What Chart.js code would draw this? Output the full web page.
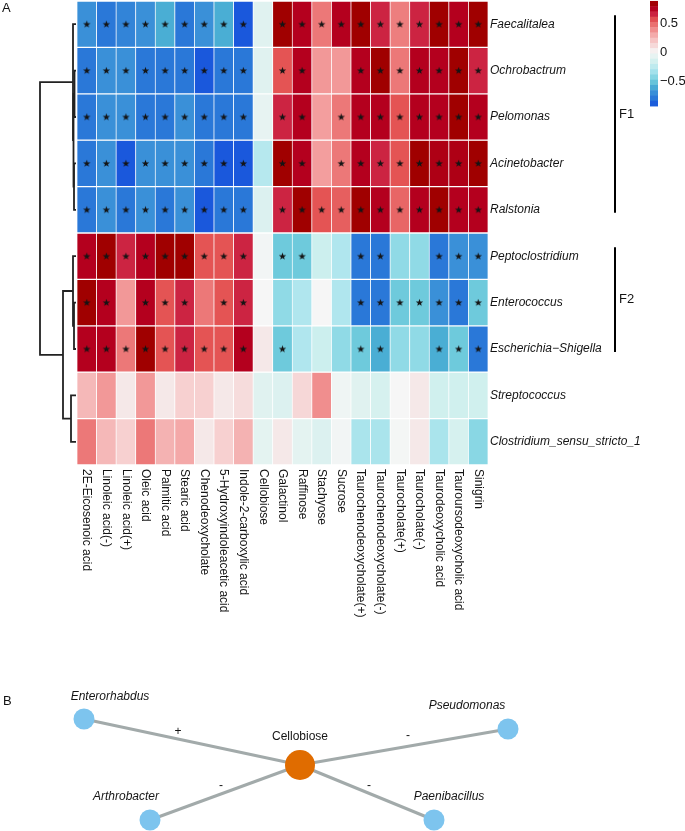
<!DOCTYPE html>
<html>
<head>
<meta charset="utf-8">
<script src="https://cdn.jsdelivr.net/npm/chart.js@4.4.1/dist/chart.umd.min.js"></script>
<style>
  html, body { margin: 0; padding: 0; background: #fff; }
  #wrap { position: relative; width: 685px; height: 831px; overflow: hidden; font-family: 'Liberation Sans', Arial, sans-serif; }
  canvas { position: absolute; left: 0; }
  #heat { top: 0; }
  #net { top: 690px; }
  .tag { position: absolute; font-size: 13px; color: #111; line-height: 1; }
</style>
</head>
<body>
<div id="wrap">
  <canvas id="heat" width="685" height="690"></canvas>
  <canvas id="net" width="685" height="141"></canvas>
  <div class="tag" style="left:2px;top:1px">A</div>
  <div class="tag" style="left:3px;top:694px">B</div>
</div>
<script>
/* ---------- data: columns (metabolites) and rows (genera) ---------- */
var metabolites = ['2E-Eicosenoic acid', 'Linoleic acid(-)', 'Linoleic acid(+)', 'Oleic acid', 'Palmitic acid',
  'Stearic acid', 'Chenodeoxycholate', '5-Hydroxyindoleacetic acid', 'Indole-2-carboxylic acid', 'Cellobiose',
  'Galactinol', 'Raffinose', 'Stachyose', 'Sucrose', 'Taurochenodeoxycholate(+)', 'Taurochenodeoxycholate(-)',
  'Taurocholate(+)', 'Taurocholate(-)', 'Taurodeoxycholic acid', 'Tauroursodeoxycholic acid', 'Sinigrin'];
var genera = ['Faecalitalea', 'Ochrobactrum', 'Pelomonas', 'Acinetobacter', 'Ralstonia', 'Peptoclostridium',
  'Enterococcus', 'Escherichia\u2212Shigella', 'Streptococcus', 'Clostridium_sensu_stricto_1'];

// correlation per genus, same order as metabolites
var faecalitalea  = [-0.70,-0.80,-0.75,-0.70,-0.60,-0.80,-0.70,-0.60,-0.90,-0.10, 0.85,0.75,0.45,0.75,0.85,0.65,0.43,0.65,0.85,0.75,0.85];
var ochrobactrum  = [-0.80,-0.70,-0.70,-0.80,-0.80,-0.80,-0.90,-0.80,-0.80,-0.10, 0.55,0.75,0.35,0.35,0.75,0.85,0.45,0.75,0.75,0.85,0.65];
var pelomonas     = [-0.80,-0.70,-0.70,-0.80,-0.80,-0.70,-0.80,-0.80,-0.80,-0.07, 0.65,0.75,0.33,0.45,0.75,0.75,0.55,0.75,0.75,0.85,0.75];
var acinetobacter = [-0.80,-0.70,-0.90,-0.70,-0.70,-0.70,-0.80,-0.90,-0.90,-0.28, 0.85,0.75,0.33,0.45,0.75,0.65,0.55,0.85,0.78,0.78,0.85];
var ralstonia     = [-0.80,-0.70,-0.80,-0.70,-0.80,-0.70,-0.90,-0.80,-0.80,-0.12, 0.65,0.85,0.55,0.52,0.85,0.75,0.50,0.75,0.85,0.75,0.75];
var peptoclost    = [0.75,0.85,0.65,0.75,0.85,0.85,0.55,0.55,0.65,-0.02, -0.50,-0.50,-0.20,-0.30,-0.80,-0.80,-0.40,-0.40,-0.80,-0.70,-0.70];
var enterococcus  = [0.85,0.75,0.35,0.75,0.55,0.65,0.45,0.55,0.65,0.00, -0.40,-0.30,0.00,-0.30,-0.80,-0.80,-0.50,-0.50,-0.70,-0.80,-0.50];
var escherichia   = [0.75,0.75,0.45,0.85,0.55,0.65,0.55,0.55,0.75,0.05, -0.50,-0.30,-0.20,-0.40,-0.50,-0.60,-0.40,-0.40,-0.60,-0.50,-0.80];
var streptococcus = [0.25,0.35,0.05,0.35,0.05,0.15,0.15,0.05,0.10,-0.10, -0.12,0.12,0.38,-0.03,-0.10,-0.15,0.00,0.05,-0.18,-0.18,-0.18];
var clostridium   = [0.45,0.25,0.15,0.45,0.27,0.30,0.05,0.15,0.27,-0.08, 0.05,-0.08,-0.12,-0.02,-0.32,-0.32,-0.01,0.05,-0.32,-0.15,-0.42];
var corr = [faecalitalea, ochrobactrum, pelomonas, acinetobacter, ralstonia, peptoclost, enterococcus, escherichia, streptococcus, clostridium];

// significance marks ('*' = star)
var sig = [
  '*********.***********',
  '*********.**..*******',
  '*********.**.********',
  '*********.**.********',
  '*********.***********',
  '*********.**..**..***',
  '**.***.**.....*******',
  '*********.*...**..***',
  '.....................',
  '.....................'
];

// row dendrogram: [a, b, height]; negative = leaf -(row+1), positive = earlier merge (1-based)
var merges = [[-2,-3,1.5], [-4,-5,2], [1,2,2.5], [-1,3,3], [-7,-8,2], [-6,5,3], [-9,-10,5], [6,7,13], [4,8,36]];
var clusters = [{ name: 'F1', first: 0, last: 4 }, { name: 'F2', first: 5, last: 7 }];

var legendTicks = [0.5, 0, -0.5];
var legendLo = -0.93, legendHi = 0.88;

/* ---------- network (panel B) ---------- */
var nodeNames = ['Cellobiose', 'Enterorhabdus', 'Pseudomonas', 'Arthrobacter', 'Paenibacillus'];
var nodeX = [0, -2.16, 2.08, -1.50, 1.34];
var nodeY = [0, 0.46, 0.36, -0.55, -0.55];
var edgeSign = ['+', '-', '-', '-'];   // Cellobiose -> node 1..4

/* ---------- style ---------- */
var FONT = "'Liberation Sans', Arial, sans-serif";
var INK = '#141414';
var STOPS = [[-0.9,'#1a58dc'],[-0.8,'#2a78d8'],[-0.7,'#3a90d8'],[-0.6,'#4aaed4'],[-0.5,'#6ecadc'],[-0.4,'#90dae6'],
  [-0.3,'#b0e6ee'],[-0.2,'#ccefee'],[-0.1,'#e0f2f0'],[0,'#f6f6f6'],[0.05,'#f5e8e8'],[0.15,'#f7d0d0'],[0.25,'#f5b8b8'],
  [0.35,'#f29898'],[0.45,'#ec7878'],[0.55,'#e45454'],[0.65,'#cc2442'],[0.75,'#b4001e'],[0.85,'#a00000']];

function hex(h) { var n = parseInt(h.slice(1), 16); return [n >> 16 & 255, n >> 8 & 255, n & 255]; }
function colorFor(v) {
  if (v <= STOPS[0][0]) return STOPS[0][1];
  if (v >= STOPS[STOPS.length - 1][0]) return STOPS[STOPS.length - 1][1];
  for (var i = 1; i < STOPS.length; i++) {
    if (v <= STOPS[i][0]) {
      var a = STOPS[i - 1], b = STOPS[i], t = (v - a[0]) / (b[0] - a[0]);
      var ca = hex(a[1]), cb = hex(b[1]);
      return 'rgb(' + ca.map(function (c, k) { return Math.round(c + (cb[k] - c) * t); }).join(',') + ')';
    }
  }
}

// small filled star used as point style
var starImg = document.createElement('canvas');
starImg.width = 9; starImg.height = 9;
(function () {
  var g = starImg.getContext('2d');
  g.fillStyle = INK; g.beginPath();
  for (var i = 0; i < 10; i++) {
    var r = i % 2 ? 1.6 : 3.9, a = -Math.PI / 2 + i * Math.PI / 5;
    g[i ? 'lineTo' : 'moveTo'](4.5 + r * Math.cos(a), 4.7 + r * Math.sin(a));
  }
  g.closePath(); g.fill();
})();

Chart.defaults.font.family = FONT;
Chart.defaults.color = INK;
Chart.defaults.animation = false;
Chart.defaults.plugins.legend.display = false;
Chart.defaults.plugins.tooltip.enabled = false;

/* ---------- heatmap ---------- */
var heatSets = genera.map(function (g, r) {
  return {
    type: 'bar', label: g,
    data: metabolites.map(function () { return [r, r + 1]; }),
    backgroundColor: corr[r].map(colorFor),
    borderColor: '#ffffff',
    borderWidth: { top: 1, bottom: 1, left: 0.7, right: 0.7 },
    borderSkipped: false,
    barPercentage: 1, categoryPercentage: 1, order: 2
  };
});
var starPts = [];
sig.forEach(function (s, r) {
  s.split('').forEach(function (c, i) { if (c === '*') starPts.push({ x: metabolites[i], y: r + 0.5 }); });
});
heatSets.push({ type: 'line', label: 'sig', data: starPts, showLine: false,
  pointStyle: starImg, pointRadius: 4, order: 0 });

var decor = {
  id: 'decor',
  afterDraw: function (chart) {
    var ctx = chart.ctx, xs = chart.scales.x, ys = chart.scales.y, ca = chart.chartArea;
    ctx.save();
    // column labels, rotated to read downwards
    ctx.font = '12px ' + FONT; ctx.fillStyle = INK; ctx.textAlign = 'left'; ctx.textBaseline = 'middle';
    metabolites.forEach(function (m, i) {
      ctx.save(); ctx.translate(xs.getPixelForValue(i), ca.bottom + 4); ctx.rotate(Math.PI / 2);
      ctx.fillText(m, 0, 0); ctx.restore();
    });
    // row dendrogram
    var leafX = ca.left - 1, unit = 1;
    var nodes = [];
    function pos(id) {
      if (id < 0) return { x: leafX, y: ys.getPixelForValue(-id - 1 + 0.5) };
      return nodes[id - 1];
    }
    ctx.strokeStyle = '#222'; ctx.lineWidth = 1.8; ctx.lineCap = 'butt';
    merges.forEach(function (m) {
      var a = pos(m[0]), b = pos(m[1]), x = leafX - m[2] * unit;
      ctx.beginPath();
      ctx.moveTo(a.x, a.y); ctx.lineTo(x, a.y); ctx.lineTo(x, b.y); ctx.lineTo(b.x, b.y);
      ctx.stroke();
      nodes.push({ x: x, y: (a.y + b.y) / 2 });
    });
    // cluster brackets
    ctx.strokeStyle = '#000'; ctx.lineWidth = 2;
    ctx.font = '13px ' + FONT; ctx.textAlign = 'left'; ctx.textBaseline = 'middle'; ctx.fillStyle = INK;
    clusters.forEach(function (c) {
      var y0 = ys.getPixelForValue(c.first + 0.5) - 9, y1 = ys.getPixelForValue(c.last + 0.5) + 3;
      ctx.beginPath(); ctx.moveTo(615, y0); ctx.lineTo(615, y1); ctx.stroke();
      ctx.fillText(c.name, 619, (y0 + y1) / 2);
    });
    // colour key
    var zeroY = 52, perUnit = 58, steps = 20, kx = 650, kw = 8;
    var yTop = zeroY - legendHi * perUnit, yBot = zeroY - legendLo * perUnit, h = (yBot - yTop) / steps;
    for (var i = 0; i < steps; i++) {
      var v = legendHi - (i + 0.5) * (legendHi - legendLo) / steps;
      ctx.fillStyle = colorFor(v);
      ctx.fillRect(kx, yTop + i * h, kw, h + 0.5);
    }
    ctx.fillStyle = INK; ctx.font = '13px ' + FONT;
    legendTicks.forEach(function (t) {
      ctx.fillText(t < 0 ? '\u2212' + Math.abs(t) : String(t), kx + 10, zeroY - t * perUnit);
    });
    ctx.restore();
  }
};

new Chart(document.getElementById('heat'), {
  type: 'bar',
  data: { labels: metabolites, datasets: heatSets },
  options: {
    responsive: false,
    layout: { autoPadding: false, padding: { left: 77, top: 1, right: 0, bottom: 0 } },
    scales: {
      x: { type: 'category', stacked: true, offset: true,
           grid: { display: false }, border: { display: false }, ticks: { display: false },
           afterFit: function (s) { s.height = 225; s.paddingLeft = 0; s.paddingRight = 0; } },
      y: { type: 'linear', min: 0, max: 10, reverse: true, position: 'right', stacked: false,
           grid: { display: false, drawTicks: false }, border: { display: false },
           afterBuildTicks: function (s) { s.ticks = genera.map(function (g, i) { return { value: i + 0.5 }; }); },
           ticks: { autoSkip: false, padding: 2, color: INK,
                    font: { family: FONT, size: 12, style: 'italic' },
                    callback: function (v) { return genera[Math.floor(v)]; } },
           afterFit: function (s) { s.width = 197; s.paddingTop = 0; s.paddingBottom = 0; } }
    }
  },
  plugins: [decor]
});

/* ---------- network ---------- */
var edgeSets = edgeSign.map(function (s, k) {
  return { type: 'line', label: 'edge' + k,
    data: [{ x: nodeX[0], y: nodeY[0] }, { x: nodeX[k + 1], y: nodeY[k + 1] }],
    borderColor: '#a2aaaa', borderWidth: 3, pointRadius: 0, order: 2 };
});
var nodeSet = { type: 'scatter', label: 'nodes',
  data: nodeNames.map(function (n, i) { return { x: nodeX[i], y: nodeY[i] }; }),
  pointRadius: nodeNames.map(function (n, i) { return i === 0 ? 15 : 10.5; }),
  backgroundColor: nodeNames.map(function (n, i) { return i === 0 ? '#e06c00' : '#7dc4ee'; }),
  borderWidth: 0, order: 0, clip: false };

var nodeLabelDx = [0, 26, -41, -24, 15], nodeLabelDy = [-28, -22, -23, -23, -23];
var signDx = [-14, 4, -4, 2], signDy = [-10, -11, -7, -7];

var netText = {
  id: 'netText',
  afterDraw: function (chart) {
    var ctx = chart.ctx, xs = chart.scales.x, ys = chart.scales.y;
    ctx.save(); ctx.fillStyle = INK; ctx.textAlign = 'center'; ctx.textBaseline = 'middle';
    nodeNames.forEach(function (n, i) {
      ctx.font = (i === 0 ? '' : 'italic ') + '12px ' + FONT;
      ctx.fillText(n, xs.getPixelForValue(nodeX[i]) + nodeLabelDx[i], ys.getPixelForValue(nodeY[i]) + nodeLabelDy[i]);
    });
    ctx.font = '12px ' + FONT;
    edgeSign.forEach(function (s, k) {
      var mx = (xs.getPixelForValue(nodeX[0]) + xs.getPixelForValue(nodeX[k + 1])) / 2;
      var my = (ys.getPixelForValue(nodeY[0]) + ys.getPixelForValue(nodeY[k + 1])) / 2;
      ctx.fillText(s, mx + signDx[k], my + signDy[k]);
    });
    ctx.restore();
  }
};

new Chart(document.getElementById('net'), {
  type: 'scatter',
  data: { datasets: edgeSets.concat([nodeSet]) },
  options: {
    responsive: false,
    layout: { autoPadding: false, padding: 0 },
    scales: {
      x: { type: 'linear', min: -3.0, max: 3.85, display: false },
      y: { type: 'linear', min: -0.66, max: 0.75, display: false }
    }
  },
  plugins: [netText]
});
</script>
</body>
</html>
